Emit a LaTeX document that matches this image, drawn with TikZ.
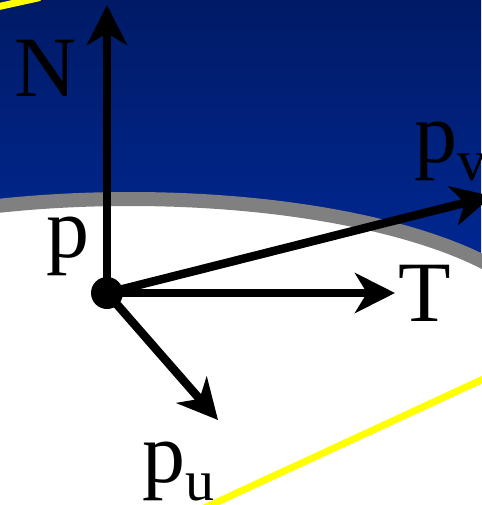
\documentclass[tikz,border=0pt]{standalone}
\usepackage{fontspec}
\setmainfont{Liberation Serif}
\usetikzlibrary{arrows.meta}
\definecolor{skytop}{HTML}{001A66}
\definecolor{skylow}{HTML}{002894}
\definecolor{rimgray}{HTML}{808080}
\definecolor{planeyellow}{HTML}{FFFF00}
\newcommand{\lowidx}[1]{\raisebox{-0.22em}{\fontsize{58}{58}\selectfont #1}}

\begin{document}
\begin{tikzpicture}[x=1pt, y=-1pt,
    vec/.style={line width=8.5pt, black, -{Stealth[length=40pt, width=40pt, inset=12pt]}},
    lbl/.style={anchor=base west, inner sep=0pt, font=\fontsize{86}{90}\selectfont}]
  \useasboundingbox (0,0) rectangle (481,505);

  % Cielo
  \shade[top color=skytop, bottom color=skylow] (0,0) rectangle (481,270);

  % Superficie
  \fill[white] (0,336) rectangle (481,505);
  \fill[white] (130,336) ellipse [x radius=420, y radius=137];
  \draw[rimgray, line width=14pt] (550,336) arc[start angle=0, end angle=-180, x radius=420, y radius=137];

  % Plano tangente
  \draw[planeyellow, line width=7pt] (-10,8.5) -- (40,-2.5);
  \draw[planeyellow, line width=7pt] (200,510) -- (490,376);

  % Punto y vectores
  \node[circle, fill=black, minimum size=32pt, inner sep=0pt] (pt) at (107,293) {};
  \coordinate (tipN) at (107,5);
  \coordinate (tipT) at (395,293);
  \coordinate (tipV) at (492,196);
  \coordinate (tipU) at (218,420);
  \draw[vec] (pt.center) -- (tipN);
  \draw[vec] (pt.center) -- (tipT);
  \draw[vec] (pt.center) -- (tipV);
  \draw[vec] (pt.center) -- (tipU);

  % Etiquetas
  \node[lbl] (labN) at (14,97) {N};
  \node[lbl] (labP) at (46,257) {p};
  \node[lbl] (labT) at (398,321) {T};
  \node[lbl] (labV) at (414,162) {p\lowidx{v}};
  \node[lbl] (labU) at (142,482) {p\lowidx{u}};
\end{tikzpicture}
\end{document}
